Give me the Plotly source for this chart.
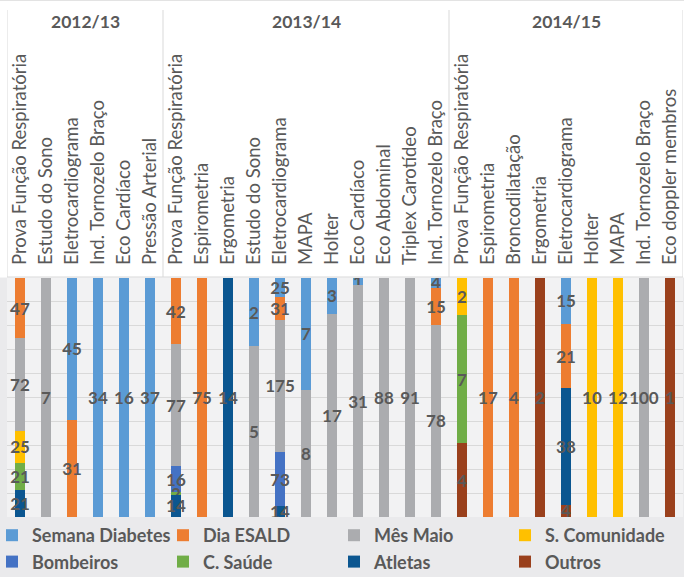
import plotly.graph_objects as go

# ---- data -------------------------------------------------------------
periods = ["2012/13", "2013/14", "2014/15"]
cats_1213 = ["Prova Função Respiratória", "Estudo do Sono", "Eletrocardiograma",
             "Ind. Tornozelo Braço", "Eco Cardíaco", "Pressão Arterial"]
cats_1314 = ["Prova Função Respiratória", "Espirometria", "Ergometria", "Estudo do Sono",
             "Eletrocardiograma", "MAPA", "Holter", "Eco Cardíaco", "Eco Abdominal",
             "Triplex Carotídeo", "Ind. Tornozelo Braço"]
cats_1415 = ["Prova Função Respiratória", "Espirometria", "Broncodilatação", "Ergometria",
             "Eletrocardiograma", "Holter", "MAPA", "Ind. Tornozelo Braço",
             "Eco doppler membros"]

series_names = ["Semana Diabetes", "Dia ESALD", "Mês Maio", "S. Comunidade",
                "Bombeiros", "C. Saúde", "Atletas", "Outros"]
series_colors = ["#5B9BD5", "#ED7D31", "#ABACAF", "#FFC000",
                 "#4472C4", "#70AD47", "#0B5690", "#9A401C"]

N = None
#                2012/13                 | 2013/14                                   | 2014/15
semana_diabetes = [N, N, 45, 34, 16, 37,   N, N, N, 2, 25, 7, 3, 1, N, N, 4,          N, N, N, N, 15, N, N, N, N]
dia_esald       = [47, N, 31, N, N, N,     42, 75, N, N, 31, N, N, N, N, N, 15,       N, 17, 4, N, 21, N, N, N, N]
mes_maio        = [72, 7, N, N, N, N,      77, N, N, 5, 175, 8, 17, 31, 88, 91, 78,   N, N, N, N, N, N, N, 100, N]
s_comunidade    = [25, N, N, N, N, N,      N, N, N, N, N, N, N, N, N, N, N,           2, N, N, N, N, 10, 12, N, N]
bombeiros       = [N, N, N, N, N, N,       16, N, N, N, 73, N, N, N, N, N, N,         N, N, N, N, N, N, N, N, N]
c_saude         = [21, N, N, N, N, N,      2, N, N, N, N, N, N, N, N, N, N,           7, N, N, N, N, N, N, N, N]
atletas         = [21, N, N, N, N, N,      14, N, 14, N, 14, N, N, N, N, N, N,        N, N, N, N, 38, N, N, N, N]
outros          = [N, N, N, N, N, N,       N, N, N, N, N, N, N, N, N, N, N,           4, N, N, 2, 4, N, N, N, 1]

series_values = [semana_diabetes, dia_esald, mes_maio, s_comunidade,
                 bombeiros, c_saude, atletas, outros]

# ---- figure -----------------------------------------------------------
groups = [cats_1213, cats_1314, cats_1415]
categories = [c for g in groups for c in g]
xpos = list(range(len(categories)))

W, H = 684, 577
M_L, M_R, M_T, M_B = 7, 1, 278, 60
PH = H - M_T - M_B
PW = W - M_L - M_R

GRAY_TXT = "#595959"
LINE = "#D9D9D9"

fig = go.Figure()
for name, color, vals in zip(series_names, series_colors, series_values):
    fig.add_trace(go.Bar(
        x=xpos, y=vals, name=name, marker=dict(color=color, line=dict(width=0)),
        text=[str(v) if v else "" for v in vals],
        textposition="inside", insidetextanchor="middle", textangle=0,
        constraintext="none", cliponaxis=True,
        textfont=dict(family="Lato", size=17, color=GRAY_TXT, weight="bold"),
        hoverinfo="skip",
    ))

def py(pix):
    """page pixel y -> paper y"""
    return (H - M_B - pix) / PH

def px(pix):
    return (pix - M_L) / PW

shapes = []
# white category header band
shapes.append(dict(type="rect", xref="paper", yref="paper", x0=px(0), x1=px(W),
                   y0=py(277.5), y1=py(0), fillcolor="white", line=dict(width=0),
                   layer="below"))
shapes.append(dict(type="line", xref="paper", yref="paper", x0=px(0), x1=px(W),
                   y0=py(0.5), y1=py(0.5), line=dict(color="#E3E3E3", width=1)))
# header box lines
bounds = [-0.5]
acc = -0.5
for g in groups:
    acc += len(g)
    bounds.append(acc)
for b in bounds:
    shapes.append(dict(type="line", xref="x", yref="paper", x0=b, x1=b,
                       y0=py(277), y1=py(10), line=dict(color=LINE, width=1)))
shapes.append(dict(type="line", xref="x", yref="paper", x0=-0.5, x1=len(categories) - 0.5,
                   y0=py(277), y1=py(277), line=dict(color=LINE, width=1)))

annotations = []
start = 0
for p, g in zip(periods, groups):
    annotations.append(dict(x=start + (len(g) - 1) / 2, xref="x", y=py(22), yref="paper",
                            text=p, showarrow=False, xanchor="center", yanchor="middle",
                            font=dict(family="Lato", size=17.5, color=GRAY_TXT, weight="bold")))
    start += len(g)

fig.update_layout(
    width=W, height=H,
    margin=dict(l=M_L, r=M_R, t=M_T, b=M_B, autoexpand=False),
    barmode="stack", barnorm="percent", bargap=0.59,
    paper_bgcolor="#EAEAEC", plot_bgcolor="#F2F2F3",
    uniformtext=dict(mode=False),
    hovermode=False,
    shapes=shapes, annotations=annotations,
    showlegend=True,
    legend=dict(orientation="h", x=px(-8), xanchor="left", y=0, yanchor="top",
                entrywidth=126, entrywidthmode="pixels", itemwidth=30,
                traceorder="normal", bgcolor="rgba(0,0,0,0)",
                font=dict(family="Lato", size=18, color=GRAY_TXT, weight="bold")),
    xaxis=dict(side="top", tickmode="array", tickvals=xpos, ticktext=categories,
               tickangle=-90, range=[-0.5, len(categories) - 0.5], showgrid=False,
               zeroline=False, showline=False, ticks="", ticklabelstandoff=12,
               tickfont=dict(family="Lato", size=18.5, color=GRAY_TXT)),
    yaxis=dict(range=[100, 0], showticklabels=False, showgrid=True, gridcolor=LINE,
               gridwidth=1, dtick=10, zeroline=False, showline=False, ticks=""),
)

fig.write_html("out.html", config={"displayModeBar": False},
               post_script="document.body.style.margin='0';document.body.style.overflow='hidden';")
